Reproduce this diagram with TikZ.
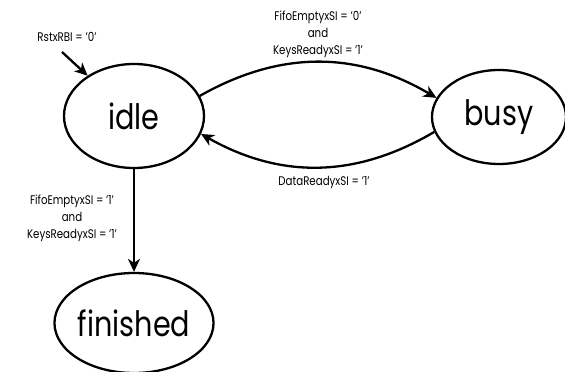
\documentclass[tikz,border=0pt]{standalone}
\usepackage{fontspec}
\setmainfont{Poppins}[FakeStretch=0.82]
\usetikzlibrary{shapes.geometric,arrows.meta,positioning}

\begin{document}
\begin{tikzpicture}[
    x=1pt, y=-1pt,
    state/.style={
        ellipse, draw,
        line width=2.3pt,
        inner sep=0pt,
        font=\fontsize{35}{35}\selectfont
    },
    cond/.style={
        align=center,
        inner sep=0pt,
        font=\fontsize{12.5}{17}\selectfont
    },
    trans/.style={
        line width=2.3pt,
        -{Stealth[length=13pt,width=12pt,inset=4pt]}
    }
]
\useasboundingbox (0,0) rectangle (565,372);

% states
\node[state, minimum width=140pt, minimum height=104pt] (idle) at (134,116) {idle};
\node[state, minimum width=134pt, minimum height=94pt] (busy) at (499,117) {busy};
\node[state, minimum width=142pt, minimum height=100pt] (finished) at (134,323) {finished};

% conditions
\node[cond] (rstlbl) at (67,37) {RstxRBI = '0'};
\node[cond] (gobusy) at (318,34) {FifoEmptyxSI = '0'\\and\\KeysReadyxSI = '1'};
\node[cond] (goidle) at (324,182) {DataReadyxSI = '1'};
\node[cond] (gofin) at (72,218) {FifoEmptyxSI = '1'\\and\\KeysReadyxSI = '1'};

% transitions
\coordinate (rst) at (62,52);
\draw[trans] (rst) -- (idle.139);
\draw[trans] (idle.17) to[bend left=30] (busy.163);
\draw[trans] (busy.193) to[bend left=30] (idle.345);
\draw[trans] (idle) -- (finished);
\end{tikzpicture}
\end{document}
